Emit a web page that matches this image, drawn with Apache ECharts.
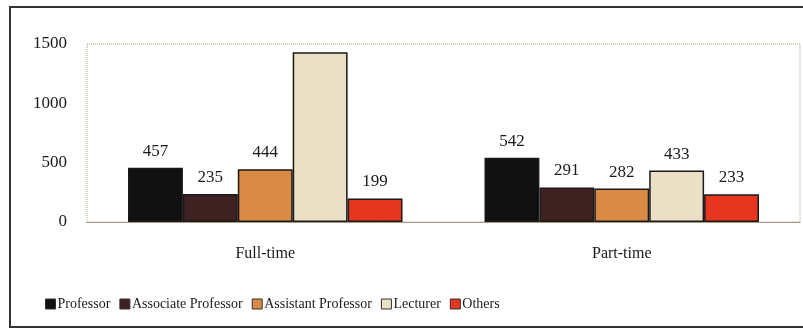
<!DOCTYPE html>
<html>
<head>
<meta charset="utf-8">
<script src="https://cdn.jsdelivr.net/npm/echarts@6/dist/echarts.min.js"></script>
<style>
  html, body { margin: 0; padding: 0; background: #fff; }
  #chart { width: 803px; height: 332px; }
</style>
</head>
<body>
<div id="chart"></div>
<script>
// Staff counts by position, split by employment type
const categories = ['Full-time', 'Part-time'];
const seriesNames = ['Professor', 'Associate Professor', 'Assistant Professor', 'Lecturer', 'Others'];
const professor = [457, 542];
const associateProfessor = [235, 291];
const assistantProfessor = [444, 282];
const lecturer = [1430, 433];
const others = [199, 233];
// Whether the value is printed above each bar
const printedLabels = [
  [true, true],
  [true, true],
  [true, true],
  [false, true],
  [true, true]
];
const yTicks = [0, 500, 1000, 1500];

const values = [professor, associateProfessor, assistantProfessor, lecturer, others];
const colors = ['#111111', '#3e2222', '#d98a44', '#ebe0c6', '#e5361f'];
const fontFamily = '"Liberation Serif", "DejaVu Serif", serif';

const chart = echarts.init(document.getElementById('chart'), null, { renderer: 'canvas' });

const series = seriesNames.map((name, i) => ({
  name: name,
  type: 'bar',
  barGap: '0%',
  barCategoryGap: '23%',
  itemStyle: { color: colors[i], borderColor: '#1a1a1a', borderWidth: 1.5 },
  label: {
    show: true,
    position: 'top',
    distance: 8,
    fontFamily: fontFamily,
    fontSize: 17,
    color: '#1a1a1a'
  },
  data: values[i].map((v, j) => ({
    value: v,
    label: { show: printedLabels[i][j] }
  }))
}));

chart.setOption({
  animation: false,
  backgroundColor: '#ffffff',
  textStyle: { fontFamily: fontFamily },
  graphic: [{
    type: 'rect',
    shape: { x: 10, y: 7, width: 800, height: 320 },
    style: { fill: 'none', stroke: '#333', lineWidth: 2 },
    silent: true
  }],
  legend: {
    data: seriesNames,
    left: 40,
    top: 292,
    itemWidth: 10,
    itemHeight: 10,
    itemGap: 9,
    icon: 'rect',
    selectedMode: false,
    textStyle: { fontFamily: fontFamily, fontSize: 14, color: '#1a1a1a', padding: [0, 0, 0, -3] },
    itemStyle: { borderColor: '#333', borderWidth: 1 }
  },
  grid: {
    left: 87,
    right: 3,
    top: 44,
    bottom: 110,
    show: true,
    borderColor: '#b3a27e',
    borderWidth: 1,
    borderType: 'dotted',
    backgroundColor: 'transparent'
  },
  xAxis: {
    type: 'category',
    data: categories,
    axisLine: { show: true, lineStyle: { color: '#a08f6e', type: 'dotted' } },
    axisTick: { show: false },
    axisLabel: { fontFamily: fontFamily, fontSize: 16, color: '#1a1a1a', margin: 24 }
  },
  yAxis: {
    type: 'value',
    min: yTicks[0],
    max: yTicks[yTicks.length - 1],
    interval: 500,
    splitLine: { show: false },
    axisLine: { show: false },
    axisTick: { show: false },
    axisLabel: {
      fontFamily: fontFamily,
      fontSize: 17,
      color: '#1a1a1a',
      margin: 20,
      formatter: (v) => String(v)
    }
  },
  series: series
});
</script>
</body>
</html>
